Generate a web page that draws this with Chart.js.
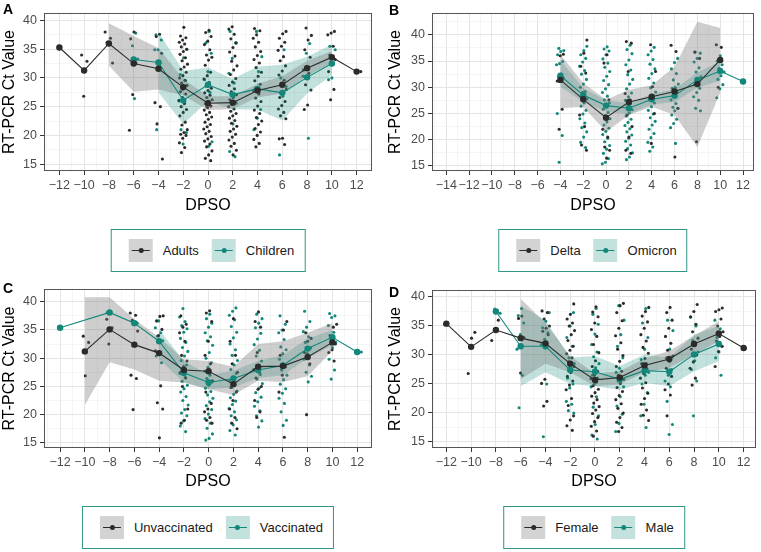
<!DOCTYPE html>
<html>
<head>
<meta charset="utf-8">
<script src="https://cdn.jsdelivr.net/npm/chart.js@4.4.1/dist/chart.umd.min.js"></script>
<style>
  body { margin: 0; background: #fff; font-family: "Liberation Sans", Arial, sans-serif; }
  #wrap { position: relative; width: 761px; height: 552px; overflow: hidden; }
  canvas { position: absolute; }
  .tag { position: absolute; font-weight: bold; font-size: 14px; line-height: 14px; color: #000; }
  .legend { position: absolute; height: 43px; box-sizing: border-box; border: 1.5px solid #2f9585;
            display: flex; align-items: center; padding: 0 10px 0 17px; transform: translateX(-50%);
            font-size: 13px; color: #1a1a1a; white-space: nowrap; }
  .key { width: 24px; height: 23px; position: relative; margin-right: 10px; flex: none; }
  .key .ln { position: absolute; left: 3px; right: 3px; top: 11px; height: 1.3px; }
  .key .dt { position: absolute; left: 9.5px; top: 9px; width: 5px; height: 5px; border-radius: 50%; }
  .lbl { margin-right: 13px; }
  .lbl:last-child { margin-right: 0; }
</style>
</head>
<body>
<div id="wrap"></div>
<script>
// tick labels
const xMajorA = [-12, -10, -8, -6, -4, -2, 0, 2, 4, 6, 8, 10, 12];
const xMajorB = [-14, -12, -10, -8, -6, -4, -2, 0, 2, 4, 6, 8, 10, 12];
const yMajor = [15, 20, 25, 30, 35, 40];

// ---------- A: Adults / Children ----------
const adultsDays = [-12, -10, -8, -6, -4, -2, 0, 2, 4, 6, 8, 10, 12];
const adultsMean = [35.3, 31.3, 36.0, 32.5, 31.6, 28.4, 25.6, 25.7, 27.8, 28.8, 31.7, 33.6, 31.1];
const childrenDays = [-6, -4, -2, 0, 2, 4, 6, 8, 10];
const childrenMean = [33.2, 32.7, 26.1, 28.8, 27.1, 28.1, 27.4, 30.1, 32.5];
const adultsCiDays = [-8, -6, -4, -2, 0, 2, 4, 6, 8, 10];
const adultsHi = [39.5, 37.3, 35.2, 29.8, 26.8, 26.8, 29.0, 30.3, 33.0, 34.7];
const adultsLo = [32.1, 27.6, 28.0, 27.0, 24.4, 24.6, 26.6, 27.3, 30.4, 32.6];
const childrenCiDays = [-4, -2, 0, 2, 4, 6, 8, 10];
const childrenHi = [38.0, 31.2, 31.8, 29.8, 32.0, 32.3, 33.7, 35.8];
const childrenLo = [27.5, 22.0, 26.0, 24.5, 24.5, 22.6, 27.3, 30.5];
const adultsPts = {
  "-12": [35.3], "-10": [34.0, 32.9, 26.8], "-8": [38.0, 36.9, 36.2, 32.6],
  "-6": [38.0, 36.8, 32.6, 27.1, 20.9],
  "-4": [37.6, 37.2, 34.3, 32.0, 25.7, 25.0, 22.0, 15.9],
  "-2": [38.8, 37.3, 37.0, 36.6, 36.2, 35.9, 35.4, 35.0, 34.6, 34.1, 33.5, 33.0, 32.4, 31.9, 31.5, 31.0, 30.4, 30.0, 29.6, 29.1, 28.7, 28.2, 27.6, 27.2, 26.6, 26.1, 25.6, 25.0, 24.5, 24.0, 23.4, 22.3, 21.8, 21.0, 20.5, 20.2, 20.0, 19.5, 18.7, 17.9, 17.0],
  "0": [38.3, 37.9, 37.2, 36.4, 35.8, 34.9, 34.0, 33.6, 33.1, 32.2, 31.0, 30.4, 29.8, 29.2, 28.6, 28.2, 27.8, 27.4, 27.0, 26.6, 26.2, 25.9, 25.5, 25.1, 24.8, 24.4, 24.0, 23.6, 23.2, 22.8, 22.3, 21.9, 21.5, 21.1, 20.7, 20.3, 19.8, 19.4, 19.0, 18.5, 18.0, 17.3, 16.6, 16.0, 15.6],
  "2": [38.9, 38.5, 37.6, 36.8, 36.1, 35.3, 34.5, 33.8, 32.9, 32.1, 31.4, 30.6, 29.9, 29.3, 28.7, 28.1, 27.6, 27.1, 26.6, 26.2, 25.8, 25.4, 25.0, 24.6, 24.2, 23.8, 23.4, 23.0, 22.6, 22.1, 21.6, 21.1, 20.7, 20.2, 19.7, 19.2, 18.6, 18.1, 17.4, 16.6],
  "4": [38.6, 38.2, 37.5, 36.9, 36.2, 35.4, 34.6, 33.9, 33.2, 32.6, 31.8, 31.0, 30.3, 29.5, 28.9, 28.3, 27.8, 27.2, 26.5, 25.9, 25.1, 24.4, 23.8, 23.1, 22.5, 21.9, 21.2, 20.6, 20.0, 19.3, 18.6, 18.0],
  "6": [38.1, 37.7, 36.9, 36.2, 35.5, 34.8, 33.7, 33.0, 32.1, 31.2, 30.5, 29.6, 28.8, 28.0, 27.3, 26.6, 25.9, 25.2, 24.6, 24.0, 23.4, 22.9, 19.5, 19.4, 18.4],
  "8": [38.7, 37.4, 36.6, 34.9, 33.6, 32.0, 31.4, 30.8, 28.8, 27.9, 25.3, 24.5],
  "10": [38.1, 37.8, 37.5, 35.5, 34.0, 33.2, 32.3, 31.1, 28.0, 26.2],
  "12": [31.1]
};
const childrenPts = {
  "-6": [37.8, 35.6, 33.3, 26.4],
  "-4": [37.5, 36.6, 34.9, 34.9, 32.6, 21.0],
  "-2": [35.0, 33.5, 30.6, 29.5, 28.0, 26.0, 25.5, 21.0, 20.5, 18.5],
  "0": [38.1, 36.1, 34.3, 31.1, 29.7, 27.5, 25.0, 18.9, 18.1],
  "2": [38.1, 36.1, 33.4, 30.8, 29.1, 27.1, 25.6, 22.0, 17.2, 16.3],
  "4": [38.1, 33.7, 31.1, 28.2, 24.5, 23.0, 21.0],
  "6": [34.9, 30.0, 28.5, 26.8, 16.6],
  "8": [36.0, 34.3, 30.3, 19.5],
  "10": [35.5, 34.9, 30.0, 29.7]
};

// ---------- B: Delta / Omicron ----------
const deltaDays = [-4, -2, 0, 2, 4, 6, 8, 10];
const deltaMean = [31.4, 27.7, 24.2, 27.2, 28.2, 29.2, 30.6, 35.2];
const omicronDays = [-4, -2, 0, 2, 4, 6, 8, 10, 12];
const omicronMean = [32.2, 28.5, 26.5, 26.0, 27.7, 28.4, 31.4, 33.1, 31.1];
const deltaCiDays = [-4, -2, 0, 2, 4, 6, 8, 10];
const deltaHi = [36.2, 30.8, 27.6, 29.5, 30.4, 33.9, 42.5, 41.3];
const deltaLo = [26.0, 26.3, 21.5, 24.7, 26.3, 24.7, 18.6, 29.0];
const omicronCiDays = [-4, -2, 0, 2, 4, 6, 8, 10];
const omicronHi = [35.2, 29.8, 27.5, 27.0, 28.7, 29.6, 32.8, 34.9];
const omicronLo = [30.1, 27.2, 25.4, 24.9, 26.7, 27.2, 29.9, 31.3];
const deltaPts = {
  "-4": [36.3, 36.0, 31.2, 25.8, 22.0],
  "-2": [39.0, 36.5, 34.0, 32.7, 29.0, 24.7, 22.5, 19.0, 18.0],
  "0": [36.2, 34.6, 27.6, 24.4, 22.0, 20.5, 18.6, 18.0, 16.5],
  "2": [38.7, 38.4, 33.0, 28.8, 27.6, 24.7, 22.5, 20.5, 18.0, 17.4],
  "4": [38.1, 33.0, 30.1, 27.6, 25.0, 19.3],
  "6": [38.0, 36.8, 29.5, 26.0, 16.7],
  "8": [36.7, 35.5, 19.6],
  "10": [38.1, 37.6, 30.0]
};
const omicronPts = {
  "-4": [37.4, 37.0, 36.8, 36.2, 34.9, 34.5, 34.3, 32.5, 32.0, 31.8, 31.5, 25.0, 20.8, 15.7],
  "-2": [37.8, 37.0, 36.2, 35.5, 34.8, 34.0, 33.2, 32.5, 31.5, 30.6, 30.0, 29.2, 28.5, 27.8, 27.0, 26.4, 25.6, 24.9, 24.0, 23.2, 22.3, 21.5, 20.5, 19.5, 18.5],
  "0": [37.7, 37.3, 36.9, 36.2, 35.4, 34.6, 33.8, 33.0, 32.1, 31.3, 30.5, 29.7, 29.0, 28.3, 27.6, 27.0, 26.4, 25.8, 25.2, 24.6, 24.0, 23.4, 22.8, 22.2, 21.6, 21.0, 20.3, 19.6, 18.9, 18.2, 17.4, 16.4, 15.7, 15.4],
  "2": [38.0, 37.2, 36.4, 35.2, 34.3, 33.3, 32.4, 31.5, 30.6, 29.7, 28.9, 28.2, 27.5, 26.9, 26.3, 25.7, 25.1, 24.5, 23.9, 23.3, 22.7, 22.1, 21.5, 20.9, 20.3, 19.7, 19.0, 18.3, 17.5, 16.7, 16.2],
  "4": [37.6, 36.9, 36.2, 35.3, 34.4, 33.5, 32.6, 31.7, 30.8, 29.9, 29.1, 28.4, 27.7, 27.0, 26.3, 25.6, 24.9, 24.2, 23.5, 22.8, 22.0, 21.2, 20.4, 19.5, 18.6, 17.8],
  "6": [35.5, 34.7, 33.5, 32.6, 31.4, 30.6, 30.0, 29.8, 29.0, 28.3, 27.6, 26.9, 26.2, 26.0, 25.5, 24.7, 23.9, 23.1, 22.3, 19.3],
  "8": [36.7, 36.5, 35.5, 34.8, 33.7, 32.9, 32.0, 31.3, 30.5, 29.8, 29.0, 28.2, 27.5, 26.0, 25.5],
  "10": [36.0, 35.0, 34.3, 33.6, 32.9, 32.2, 31.5, 30.5, 29.7, 28.0],
  "12": [31.1]
};

// ---------- C: Unvaccinated / Vaccinated ----------
const unvaxDays = [-10, -8, -6, -4, -2, 0, 2, 4, 6, 8, 10];
const unvaxMean = [31.2, 35.1, 32.4, 30.9, 27.9, 27.7, 25.4, 28.5, 28.6, 30.2, 32.8];
const vaxDays = [-12, -8, -6, -4, -2, 0, 2, 4, 6, 8, 10, 12];
const vaxMean = [35.4, 38.1, 36.2, 33.0, 27.4, 25.7, 26.4, 27.9, 28.7, 31.7, 33.7, 31.1];
const unvaxCiDays = [-10, -8, -6, -4, -2, 0, 2, 4, 6, 8, 10];
const unvaxHi = [40.8, 40.8, 36.9, 33.7, 29.8, 29.5, 28.5, 32.5, 33.0, 34.5, 36.2];
const unvaxLo = [21.7, 29.3, 28.0, 26.0, 25.7, 24.5, 23.5, 26.0, 25.8, 26.8, 31.3];
const vaxCiDays = [-4, -2, 0, 2, 4, 6, 8, 10];
const vaxHi = [35.1, 29.5, 27.0, 27.8, 29.5, 30.5, 33.5, 35.0];
const vaxLo = [29.8, 25.7, 24.5, 24.8, 26.5, 27.0, 30.0, 32.3];
const unvaxPts = {
  "-10": [33.9, 32.8, 26.9], "-8": [36.9, 35.4, 32.5],
  "-6": [38.0, 37.6, 36.7, 34.8, 32.3, 27.0, 26.4, 20.9],
  "-4": [37.5, 37.4, 36.6, 35.1, 34.0, 31.3, 25.1, 22.1, 21.0, 15.9],
  "-2": [37.5, 36.0, 35.5, 34.5, 33.0, 30.5, 29.5, 28.5, 27.5, 26.5, 25.0, 21.0, 19.0, 18.5],
  "0": [38.4, 38.0, 36.5, 33.0, 30.5, 29.0, 27.5, 26.0, 25.5, 24.0, 22.0, 21.0, 20.5, 19.5, 19.0, 18.5],
  "2": [37.0, 33.0, 30.5, 29.0, 27.5, 26.0, 24.8, 24.0, 22.5, 21.0, 19.5, 18.5, 17.5],
  "4": [38.2, 36.5, 35.5, 31.0, 28.0, 27.5, 26.5, 25.0, 24.5, 22.5, 20.5, 19.5],
  "6": [36.5, 35.0, 30.5, 28.5, 27.0, 24.0, 16.0],
  "8": [34.5, 33.5, 33.0, 31.0, 29.0, 20.0],
  "10": [36.0, 35.5, 34.0, 32.5, 31.5, 31.0, 29.5]
};
const vaxPts = {
  "-12": [35.3], "-8": [38.1], "-6": [36.2],
  "-4": [36.6, 35.4, 34.5, 33.9, 33.1, 32.8, 30.4, 29.2],
  "-2": [38.8, 37.3, 36.5, 35.8, 35.2, 34.6, 33.5, 32.8, 31.9, 31.2, 30.4, 29.6, 28.8, 28.0, 27.3, 26.6, 25.9, 25.2, 24.6, 24.0, 23.2, 22.5, 21.7, 20.9, 20.3, 19.8, 18.9, 18.0, 17.0],
  "0": [37.8, 37.0, 36.2, 35.5, 34.5, 33.8, 33.1, 32.3, 31.0, 30.0, 29.2, 28.4, 27.7, 27.0, 26.4, 25.8, 25.2, 24.7, 24.1, 23.5, 22.9, 22.3, 21.6, 20.9, 20.1, 19.3, 18.5, 17.6, 16.6, 15.8, 15.5],
  "2": [38.9, 38.3, 37.6, 36.8, 35.6, 34.6, 33.6, 32.5, 31.5, 30.5, 29.6, 28.8, 28.0, 27.3, 26.6, 26.0, 25.4, 24.8, 24.2, 23.6, 23.0, 22.4, 21.8, 21.1, 20.5, 19.8, 19.1, 18.2, 17.2, 16.4],
  "4": [37.8, 37.0, 36.2, 35.4, 34.4, 33.4, 32.4, 31.4, 30.4, 29.5, 28.7, 27.9, 27.1, 26.3, 25.5, 24.7, 23.9, 23.1, 22.3, 21.5, 20.7, 19.8, 18.9, 17.8],
  "6": [37.5, 36.0, 35.0, 34.5, 33.3, 32.0, 31.5, 30.8, 29.8, 28.8, 27.9, 27.0, 26.2, 25.4, 24.6, 23.8, 22.9, 22.0, 20.5, 19.0, 18.1],
  "8": [38.3, 36.5, 35.5, 34.7, 33.8, 32.8, 31.8, 30.8, 29.8, 28.8, 27.5, 26.8, 25.8],
  "10": [37.9, 37.5, 37.2, 35.8, 34.6, 33.5, 32.8, 31.9, 29.8, 27.9, 26.3],
  "12": [31.1]
};

// ---------- D: Female / Male ----------
const femaleDays = [-12, -10, -8, -6, -4, -2, 0, 2, 4, 6, 8, 10, 12];
const femaleMean = [35.4, 31.4, 34.3, 32.9, 32.0, 28.5, 25.7, 26.1, 28.2, 29.3, 31.9, 33.7, 31.2];
const maleDays = [-8, -6, -4, -2, 0, 2, 4, 6, 8, 10];
const maleMean = [37.5, 31.5, 31.5, 27.4, 27.1, 25.8, 27.3, 27.1, 30.1, 31.9];
const femaleCiDays = [-6, -4, -2, 0, 2, 4, 6, 8, 10];
const femaleHi = [39.7, 35.5, 29.8, 26.8, 27.2, 29.4, 30.7, 33.3, 35.8];
const femaleLo = [25.8, 28.5, 27.0, 24.6, 24.9, 27.0, 27.8, 30.1, 32.4];
const maleCiDays = [-6, -4, -2, 0, 2, 4, 6, 8, 10];
const maleHi = [38.5, 36.0, 29.5, 29.8, 28.1, 30.1, 29.5, 33.5, 35.0];
const maleLo = [24.6, 27.0, 25.0, 24.6, 24.0, 25.2, 24.6, 27.2, 28.9];
const femalePts = {
  "-12": [35.3], "-10": [33.9, 32.9, 26.8], "-8": [36.0, 34.3, 32.5],
  "-6": [36.7, 36.3, 33.0, 26.9],
  "-4": [37.6, 37.3, 36.2, 35.0, 34.6, 34.1, 33.5, 25.8, 25.1, 22.0, 21.2],
  "-2": [38.8, 37.0, 36.2, 35.5, 35.0, 34.2, 33.5, 32.5, 31.5, 30.8, 30.2, 29.5, 28.8, 28.0, 27.0, 26.3, 25.5, 24.8, 24.0, 22.5, 21.3, 19.5, 18.8, 17.8, 17.0],
  "0": [38.3, 37.4, 36.6, 35.5, 34.4, 33.2, 31.8, 30.4, 29.0, 28.0, 27.2, 26.5, 25.9, 25.3, 24.7, 24.1, 23.5, 22.9, 22.3, 21.7, 21.1, 20.5, 19.9, 19.2, 18.5, 17.7, 16.9, 16.0],
  "2": [38.9, 38.5, 37.3, 35.9, 34.6, 33.3, 32.1, 31.0, 29.9, 28.9, 28.0, 27.2, 26.5, 25.8, 25.1, 24.4, 23.7, 23.0, 22.3, 21.6, 20.8, 20.0, 19.2, 18.4, 17.5, 16.8],
  "4": [38.2, 37.5, 36.7, 35.7, 34.6, 33.5, 32.4, 31.3, 30.3, 29.4, 28.5, 27.6, 26.8, 26.0, 25.2, 24.3, 23.4, 22.5, 21.5, 20.5, 19.6, 18.7],
  "6": [38.2, 37.3, 36.0, 34.6, 33.2, 32.0, 30.8, 29.8, 28.9, 27.7, 26.3, 25.0, 24.0, 23.1, 19.5],
  "8": [38.7, 37.5, 36.6, 35.3, 34.0, 32.9, 31.9, 31.0, 30.0, 28.8, 27.7, 26.0, 24.8],
  "10": [38.1, 37.8, 37.5, 36.2, 35.0, 34.0, 33.2, 32.4, 31.5, 30.6, 28.0],
  "12": [31.1]
};
const malePts = {
  "-8": [37.9, 37.2],
  "-6": [38.0, 36.8, 35.5, 33.5, 31.0, 26.5, 20.9],
  "-4": [37.3, 35.8, 34.7, 33.8, 32.7, 31.8, 25.0, 15.9],
  "-2": [37.3, 35.0, 33.0, 31.5, 29.5, 28.5, 27.0, 26.0, 25.0, 24.3, 22.0, 21.5, 20.4, 20.0],
  "0": [38.0, 37.0, 35.3, 33.6, 31.8, 30.5, 29.7, 28.5, 27.8, 26.5, 26.0, 25.0, 24.5, 22.8, 21.0, 19.5, 18.0, 16.2, 15.5],
  "2": [38.5, 36.0, 33.5, 31.5, 29.5, 27.7, 27.0, 26.0, 25.5, 24.5, 22.8, 21.2, 19.8, 18.2, 16.8],
  "4": [38.0, 35.5, 33.0, 31.0, 29.2, 28.5, 27.8, 27.0, 26.5, 25.0, 23.5, 21.5, 19.5, 17.5],
  "6": [36.0, 34.2, 31.0, 29.5, 27.5, 26.5, 25.5, 24.5, 22.0, 18.0, 16.3],
  "8": [36.5, 35.0, 32.5, 30.5, 29.0, 27.5, 25.5, 19.5],
  "10": [36.0, 34.5, 33.0, 31.5, 30.5, 29.5, 26.5]
};

const DARK = "#2b2b2b";
const TEAL = "#12877a";
const GRAY_FILL = "rgba(120,120,120,0.36)";
const TEAL_FILL = "rgba(20,140,122,0.26)";

const panels = [
  { id: "A", left: 0, top: 0, w: 380, padL: 0, padT: 13, padR: 8, yW: 44, xH: 49,
    xMin: -13.24, xMax: 13.24, yMin: 13.8, yMax: 41.3, xMajor: xMajorA, tag: [3, 2], legTop: 229,
    g: ["Adults", adultsDays, adultsMean, adultsCiDays, adultsHi, adultsLo, adultsPts],
    t: ["Children", childrenDays, childrenMean, childrenCiDays, childrenHi, childrenLo, childrenPts] },
  { id: "B", left: 380, top: 0, w: 381, padL: 6, padT: 13, padR: 7, yW: 46, xH: 49,
    xMin: -15.25, xMax: 12.96, yMin: 14.04, yMax: 44.15, xMajor: xMajorB, tag: [9, 3], legTop: 229,
    g: ["Delta", deltaDays, deltaMean, deltaCiDays, deltaHi, deltaLo, deltaPts],
    t: ["Omicron", omicronDays, omicronMean, omicronCiDays, omicronHi, omicronLo, omicronPts] },
  { id: "C", left: 0, top: 276, w: 380, padL: 0, padT: 13, padR: 8, yW: 44, xH: 48,
    xMin: -13.3, xMax: 13.2, yMin: 14.1, yMax: 42.25, xMajor: xMajorA, tag: [3, 5], legTop: 506,
    g: ["Unvaccinated", unvaxDays, unvaxMean, unvaxCiDays, unvaxHi, unvaxLo, unvaxPts],
    t: ["Vaccinated", vaxDays, vaxMean, vaxCiDays, vaxHi, vaxLo, vaxPts] },
  { id: "D", left: 380, top: 276, w: 381, padL: 6, padT: 14, padR: 5, yW: 46, xH: 48,
    xMin: -13.16, xMax: 13.0, yMin: 13.96, yMax: 41.2, xMajor: xMajorA, tag: [9, 9], legTop: 506,
    g: ["Female", femaleDays, femaleMean, femaleCiDays, femaleHi, femaleLo, femalePts],
    t: ["Male", maleDays, maleMean, maleCiDays, maleHi, maleLo, malePts] }
];

// small horizontal spread of points inside a day column (like geom_jitter, but fixed)
function spread(byDay, seed) {
  const out = [];
  let k = seed;
  for (const [day, ys] of Object.entries(byDay)) {
    for (const y of ys) {
      k++;
      const f = (k * 0.6180339887) % 1;
      out.push({ x: Number(day) + (f - 0.5) * 0.7, y });
    }
  }
  return out;
}

const xy = (days, vals) => days.map((d, i) => ({ x: d, y: vals[i] }));
const minus = (v) => String(v).replace("-", "\u2212");

const panelBorder = {
  id: "panelBorder",
  afterDraw(chart) {
    const { left, top, right, bottom } = chart.chartArea;
    const c = chart.ctx;
    c.save();
    c.strokeStyle = "#555";
    c.lineWidth = 1;
    c.strokeRect(Math.round(left) + 0.5, Math.round(top) + 0.5, Math.round(right - left) - 1, Math.round(bottom - top) - 1);
    c.restore();
  }
};

function groupSets(grp, color, fill, seed) {
  const [name, days, mean, ciDays, hi, lo, pts] = grp;
  return [
    { type: "line", label: name, data: xy(days, mean), borderColor: color, backgroundColor: color,
      borderWidth: 1.1, pointRadius: 3.2, pointBorderWidth: 0, pointBackgroundColor: color, fill: false, order: 1 },
    { type: "line", label: name + " hi", data: xy(ciDays, hi), borderWidth: 0, pointRadius: 0,
      backgroundColor: fill, fill: "+1", order: 2 },
    { type: "line", label: name + " lo", data: xy(ciDays, lo), borderWidth: 0, pointRadius: 0, fill: false, order: 2 },
    { type: "scatter", label: name + " pts", data: spread(pts, seed), backgroundColor: color,
      pointRadius: 1.55, pointBorderWidth: 0, order: 3 }
  ];
}

function legendHtml(p) {
  const item = (name, col, bg) =>
    `<div class="key" style="background:${bg}"><div class="ln" style="background:${col}"></div>` +
    `<div class="dt" style="background:${col}"></div></div><span class="lbl">${name}</span>`;
  return item(p.g[0], DARK, "#d3d3d3") + item(p.t[0], TEAL, "#c3e2dd");
}

const wrap = document.getElementById("wrap");

for (const p of panels) {
  const H = 220;
  const canvas = document.createElement("canvas");
  canvas.width = p.w;
  canvas.height = H;
  canvas.style.left = p.left + "px";
  canvas.style.top = p.top + "px";
  wrap.appendChild(canvas);

  const tag = document.createElement("div");
  tag.className = "tag";
  tag.textContent = p.id;
  tag.style.left = p.left + p.tag[0] + "px";
  tag.style.top = p.top + p.tag[1] + "px";
  wrap.appendChild(tag);

  const xMinor = [];
  for (let v = -15; v <= 13; v += 2) if (v > p.xMin && v < p.xMax) xMinor.push(v);
  const yMinor = [];
  for (let v = 12.5; v <= 45; v += 5) if (v > p.yMin && v < p.yMax) yMinor.push(v);
  const xMaj = p.xMajor.filter((v) => v > p.xMin && v < p.xMax);
  const yMaj = yMajor.filter((v) => v > p.yMin && v < p.yMax);

  const gridOpts = (majors) => ({
    color: (ctx) => (ctx.tick && majors.includes(ctx.tick.value) ? "#e4e4e4" : "#f1f1f1"),
    lineWidth: (ctx) => (ctx.tick && majors.includes(ctx.tick.value) ? 1 : 0.7),
    tickColor: (ctx) => (ctx.tick && majors.includes(ctx.tick.value) ? "#333" : "rgba(0,0,0,0)"),
    tickLength: 4,
    drawTicks: true
  });

  new Chart(canvas, {
    type: "line",
    data: {
      datasets: [
        ...groupSets(p.g, DARK, GRAY_FILL, 0),
        ...groupSets(p.t, TEAL, TEAL_FILL, 500)
      ]
    },
    options: {
      responsive: false,
      animation: false,
      events: [],
      layout: { padding: { left: p.padL, top: p.padT, right: p.padR, bottom: 0 } },
      plugins: { legend: { display: false }, tooltip: { enabled: false } },
      scales: {
        x: {
          type: "linear",
          min: p.xMin,
          max: p.xMax,
          afterBuildTicks: (s) => { s.ticks = [...xMaj, ...xMinor].sort((a, b) => a - b).map((v) => ({ value: v })); },
          afterFit: (s) => { s.height = p.xH; },
          ticks: {
            autoSkip: false, maxRotation: 0, padding: 3, color: "#4d4d4d",
            font: { size: 12.5, family: "Liberation Sans" },
            callback: (v) => (xMaj.includes(v) ? minus(v) : "")
          },
          grid: gridOpts(xMaj),
          border: { display: false },
          title: { display: true, text: "DPSO", color: "#000", font: { size: 16, family: "Liberation Sans" },
                   padding: { top: 0, bottom: 5 } }
        },
        y: {
          type: "linear",
          min: p.yMin,
          max: p.yMax,
          afterBuildTicks: (s) => { s.ticks = [...yMaj, ...yMinor].sort((a, b) => a - b).map((v) => ({ value: v })); },
          afterFit: (s) => { s.width = p.yW; },
          ticks: {
            autoSkip: false, padding: 3, color: "#4d4d4d",
            font: { size: 12.5, family: "Liberation Sans" },
            callback: (v) => (yMaj.includes(v) ? String(v) : "")
          },
          grid: gridOpts(yMaj),
          border: { display: false },
          title: { display: true, text: "RT-PCR Ct Value", color: "#000", font: { size: 16, family: "Liberation Sans" },
                   padding: { top: 0, bottom: 0 } }
        }
      }
    },
    plugins: [panelBorder]
  });

  const leg = document.createElement("div");
  leg.className = "legend";
  const plotMid = p.left + p.padL + p.yW + (p.w - p.padR - p.padL - p.yW) / 2;
  leg.style.left = plotMid + "px";
  leg.style.top = p.legTop + "px";
  leg.innerHTML = legendHtml(p);
  wrap.appendChild(leg);
}
</script>
</body>
</html>
